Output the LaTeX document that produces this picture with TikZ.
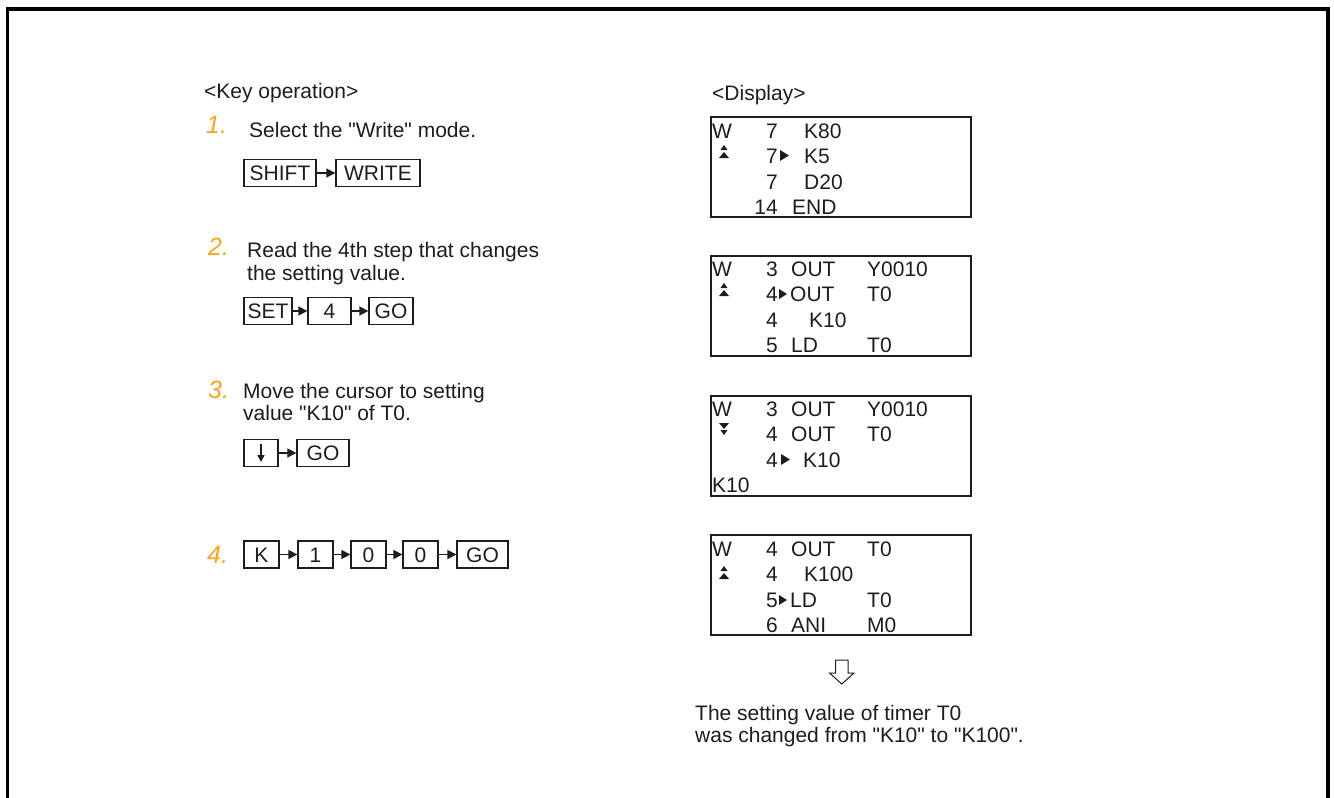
\documentclass[tikz,border=0pt]{standalone}
\usepackage{fontspec}
\setmainfont{Liberation Sans}[Ligatures=TeXOff]
\usetikzlibrary{arrows.meta}
\definecolor{stepor}{RGB}{246,166,35}
\definecolor{ink}{RGB}{30,28,28}
\begin{document}
\begin{tikzpicture}[x=1pt,y=-1pt,
  txt/.style={font=\fontsize{21}{23}\selectfont, inner sep=0pt, anchor=base west, text=ink},
  rtxt/.style={txt, anchor=base east},
  stepnum/.style={font=\fontsize{25}{27}\selectfont\itshape, inner sep=0pt, anchor=base west, text=stepor},
  keybox/.style={draw=ink, line width=1.3pt, minimum height=27pt, inner sep=0pt,
    font=\fontsize{21}{23}\selectfont, text height=15.2pt, text depth=0pt, text=ink},
  karr/.style={draw=ink, line width=1.6pt, -{Triangle[length=9pt,width=9pt]}},
  panel/.style={draw=ink, line width=2pt, minimum width=260pt, minimum height=100pt, inner sep=0pt},
  frameline/.style={line width=3.2pt, draw=black}
]
\useasboundingbox (0,0) rectangle (1334,798);
% frame
\coordinate (fbl) at (7.5,800);
\coordinate (ftl) at (7.5,9);
\coordinate (ftr) at (1328,9);
\coordinate (fbr) at (1328,800);
\draw[frameline] (fbl) -- (ftl) -- (ftr) -- (fbr);

% ---------- Key operation ----------
\node[txt] (hkey) at (204,98) {<Key operation>};

\node[stepnum] (n1) at (206,133) {1.};
\node[txt] (t1) at (249,137) {Select the "Write" mode.};
\node[keybox, minimum width=72pt] (k1a) at (280,173) {SHIFT};
\node[keybox, minimum width=84pt] (k1b) at (378,173) {WRITE};
\draw[karr] (k1a) -- (k1b);

\node[stepnum] (n2) at (208,255) {2.};
\node[txt] (t2a) at (247,257) {Read the 4th step that changes};
\node[txt] (t2b) at (247,280) {the setting value.};
\node[keybox, minimum width=48pt] (k2a) at (268,311) {SET};
\node[keybox, minimum width=43pt] (k2b) at (329.5,311) {4};
\node[keybox, minimum width=44pt] (k2c) at (391,311) {GO};
\draw[karr] (k2a) -- (k2b);
\draw[karr] (k2b) -- (k2c);

\node[stepnum] (n3) at (208,398) {3.};
\node[txt] (t3a) at (243,398) {Move the cursor to setting};
\node[txt] (t3b) at (243,420) {value "K10" of T0.};
\node[keybox, minimum width=34pt] (k3a) at (261,453) {};
\draw[line width=1.4pt, draw=ink, -{Triangle[length=7pt,width=7pt]}] ([yshift=9pt]k3a.center) -- ([yshift=-9pt]k3a.center);
\node[keybox, minimum width=52pt] (k3b) at (323,453) {GO};
\draw[karr] (k3a) -- (k3b);

\node[stepnum] (n4) at (207,563) {4.};
\node[keybox, minimum width=35pt] (k4a) at (261.5,554.5) {K};
\node[keybox, minimum width=35pt] (k4b) at (315.5,554.5) {1};
\node[keybox, minimum width=35pt] (k4c) at (368.5,554.5) {0};
\node[keybox, minimum width=35pt] (k4d) at (420.5,554.5) {0};
\node[keybox, minimum width=51pt] (k4e) at (482.5,554.5) {GO};
\draw[karr] (k4a) -- (k4b);
\draw[karr] (k4b) -- (k4c);
\draw[karr] (k4c) -- (k4d);
\draw[karr] (k4d) -- (k4e);

% ---------- Display ----------
\node[txt] (hdisp) at (712,100) {<Display>};

% panel 1
\node[panel] (p1) at (841,166.5) {};
\node[txt] (p1w) at (712,138) {W};
\node[rtxt] (p1n1) at (778,138) {7};
\node[txt] (p1a1) at (804,138) {K80};
\node[rtxt] (p1n2) at (778,163) {7};
\node[txt] (p1a2) at (804,163) {K5};
\node[rtxt] (p1n3) at (778,189) {7};
\node[txt] (p1a3) at (804,189) {D20};
\node[rtxt] (p1n4) at (778,214) {14};
\node[txt] (p1a4) at (792,214) {END};
\fill[ink] (780,150) -- (789,155.5) -- (780,161) -- cycle;
\fill[ink] (724,145) -- (727.5,150) -- (720.5,150) -- cycle;
\fill[ink] (724,152) -- (729,158) -- (719,158) -- cycle;

% panel 2
\node[panel] (p2) at (841,305.5) {};
\node[txt] (p2w) at (712,276) {W};
\node[rtxt] (p2n1) at (778,276) {3};
\node[txt] (p2a1) at (791,276) {OUT};
\node[txt] (p2b1) at (867,276) {Y0010};
\node[rtxt] (p2n2) at (778,301) {4};
\node[txt] (p2a2) at (790,301) {OUT};
\node[txt] (p2b2) at (867,301) {T0};
\node[rtxt] (p2n3) at (778,327) {4};
\node[txt] (p2a3) at (809,327) {K10};
\node[rtxt] (p2n4) at (778,352) {5};
\node[txt] (p2a4) at (791,352) {LD};
\node[txt] (p2b4) at (867,352) {T0};
\fill[ink] (779,289) -- (787,294) -- (779,299) -- cycle;
\fill[ink] (724,283) -- (727.5,288) -- (720.5,288) -- cycle;
\fill[ink] (724,290) -- (729,296) -- (719,296) -- cycle;

% panel 3
\node[panel] (p3) at (841,445.5) {};
\node[txt] (p3w) at (712,416) {W};
\node[rtxt] (p3n1) at (778,416) {3};
\node[txt] (p3a1) at (791,416) {OUT};
\node[txt] (p3b1) at (867,416) {Y0010};
\node[rtxt] (p3n2) at (778,441) {4};
\node[txt] (p3a2) at (791,441) {OUT};
\node[txt] (p3b2) at (867,441) {T0};
\node[rtxt] (p3n3) at (778,467) {4};
\node[txt] (p3a3) at (803,467) {K10};
\node[txt] (p3a4) at (712,492) {K10};
\fill[ink] (781,454) -- (790,459.5) -- (781,465) -- cycle;
\fill[ink] (719,423) -- (729,423) -- (724,429) -- cycle;
\fill[ink] (720.5,430) -- (727.5,430) -- (724,435) -- cycle;

% panel 4
\node[panel] (p4) at (841,585) {};
\node[txt] (p4w) at (712,556) {W};
\node[rtxt] (p4n1) at (778,556) {4};
\node[txt] (p4a1) at (791,556) {OUT};
\node[txt] (p4b1) at (867,556) {T0};
\node[rtxt] (p4n2) at (778,581) {4};
\node[txt] (p4a2) at (804,581) {K100};
\node[rtxt] (p4n3) at (778,607) {5};
\node[txt] (p4a3) at (790,607) {LD};
\node[txt] (p4b3) at (867,607) {T0};
\node[rtxt] (p4n4) at (778,632) {6};
\node[txt] (p4a4) at (791,632) {ANI};
\node[txt] (p4b4) at (867,632) {M0};
\fill[ink] (779,595) -- (787,600) -- (779,605) -- cycle;
\fill[ink] (724,566) -- (727.5,571) -- (720.5,571) -- cycle;
\fill[ink] (724,573) -- (729,579) -- (719,579) -- cycle;

% hollow down arrow
\draw[draw=ink, line width=1pt, line join=miter]
  (835.5,660) -- (848,660) -- (848,673) -- (854,673) -- (841.75,684) -- (829.5,673) -- (835.5,673) -- cycle;

\node[txt] (res1) at (695,720) {The setting value of timer T0};
\node[txt] (res2) at (695,742) {was changed from "K10" to "K100".};
\end{tikzpicture}
\end{document}
